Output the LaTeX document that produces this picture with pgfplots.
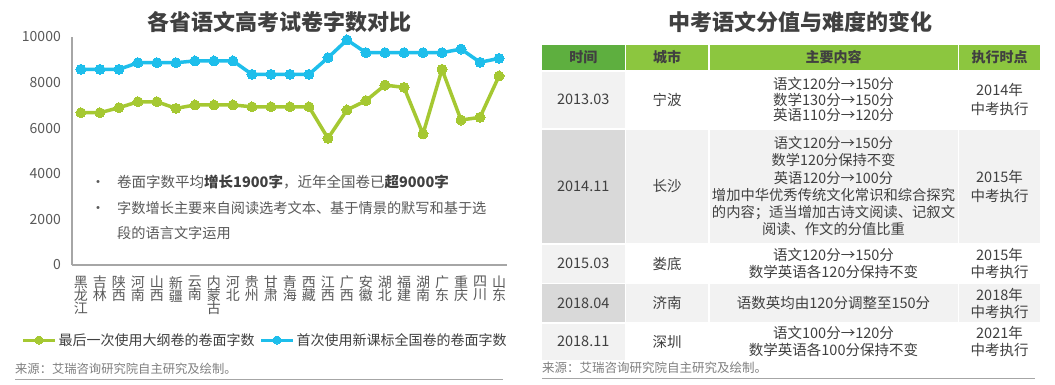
\documentclass[border=0pt]{standalone}
\usepackage{fontspec}
\setmainfont{Noto Sans CJK SC}
\usepackage{pgfplots}
\pgfplotsset{compat=1.18}
\definecolor{cgreen}{HTML}{A5C832}
\definecolor{cblue}{HTML}{1EBEEB}
\definecolor{dgray}{HTML}{404040}
\definecolor{mgray}{HTML}{595959}
\definecolor{lgray}{HTML}{7F7F7F}
\definecolor{axgray}{HTML}{A6A6A6}
\definecolor{hgA}{HTML}{5EAF3F}
\definecolor{hgB}{HTML}{8CC63F}
\definecolor{cL}{HTML}{F2F2F2}
\definecolor{cD}{HTML}{D9D9D9}
\newcommand{\fs}[2]{\fontsize{#1}{#2}\selectfont}
\newcommand{\cell}[7]{\fill[#5] (#1pt,-#2pt) rectangle (#3pt,-#4pt);
  \node[align=center, text=dgray, font={#7}, inner sep=0pt] at ({(#1+#3)/2*1pt},{-(#2+#4)/2*1pt}) {#6};}
\begin{document}
\begin{tikzpicture}
\fill[white] (0,0) rectangle (1055pt,-384pt);
% ---------- left chart ----------
\node[font={\fs{22}{22}\bfseries}, text=dgray, inner sep=0pt] at (279pt,-22pt) {各省语文高考试卷字数对比};
\begin{axis}[
  at={(72pt,-265pt)}, anchor=south west,
  scale only axis, width=435pt, height=228.3pt,
  xmin=-0.47, xmax=22.42, ymin=0, ymax=10000,
  separate axis lines,
  axis x line*=bottom, axis y line*=left,
  x axis line style={-, axgray, line width=1.3pt},
  y axis line style={-, axgray, line width=1.3pt},
  major tick length=0pt,
  ytick={0,2000,4000,6000,8000,10000},
  scaled y ticks=false,
  yticklabel style={text=mgray, font={\fs{14}{14}}, anchor=east, inner sep=0pt, xshift=-11pt},
  /pgf/number format/1000 sep={},
  /pgf/number format/assume math mode=true,
  xtick={0,...,22},
  xticklabels={{黑\\[-1pt]龙\\[-1pt]江},{吉\\[-1pt]林},{陕\\[-1pt]西},{河\\[-1pt]南},{山\\[-1pt]西},{新\\[-1pt]疆},{云\\[-1pt]南},{内\\[-1pt]蒙\\[-1pt]古},{河\\[-1pt]北},{贵\\[-1pt]州},{甘\\[-1pt]肃},{青\\[-1pt]海},{西\\[-1pt]藏},{江\\[-1pt]西},{广\\[-1pt]西},{安\\[-1pt]徽},{湖\\[-1pt]北},{福\\[-1pt]建},{湖\\[-1pt]南},{广\\[-1pt]东},{重\\[-1pt]庆},{四\\[-1pt]川},{山\\[-1pt]东}},
  xticklabel style={text=mgray, font={\fs{14}{14}}, align=center, anchor=north, inner sep=0pt, yshift=-11pt},
  legend style={at={(0.4437,-0.3285)}, anchor=center, draw=none, fill=none,
    font={\fs{14}{14}}, text=dgray, legend columns=2,
    /tikz/every even column/.style={column sep=3pt}, inner sep=0pt},
  legend image code/.code={\draw[#1, line width=3pt, mark size=4pt, mark repeat=2, mark phase=2] plot coordinates {(0pt,0pt)(16pt,0pt)(32pt,0pt)};},
  clip=false,
]
\addplot[cgreen, line width=3.5pt, mark=*, mark size=5pt, mark options={fill=cgreen, draw=cgreen, line width=0pt}] coordinates {
(0,6670)(1,6670)(2,6890)(3,7150)(4,7150)(5,6860)(6,7010)(7,7010)(8,7010)(9,6930)(10,6930)(11,6930)(12,6930)(13,5550)(14,6790)(15,7200)(16,7880)(17,7780)(18,5740)(19,8570)(20,6350)(21,6470)(22,8280)};
\addlegendentry{最后一次使用大纲卷的卷面字数}
\addplot[cblue, line width=3.5pt, mark=*, mark size=5pt, mark options={fill=cblue, draw=cblue, line width=0pt}] coordinates {
(0,8570)(1,8570)(2,8570)(3,8860)(4,8860)(5,8860)(6,8940)(7,8940)(8,8940)(9,8350)(10,8350)(11,8350)(12,8350)(13,9080)(14,9860)(15,9300)(16,9300)(17,9300)(18,9300)(19,9300)(20,9460)(21,8880)(22,9050)};
\addlegendentry{首次使用新课标全国卷的卷面字数}
\end{axis}
% bullets
\node[anchor=base, text=mgray, font={\fs{14.5}{14.5}}, inner sep=0pt] at (98pt,-187.2pt) {•};
\node[anchor=base, text=mgray, font={\fs{14.5}{14.5}}, inner sep=0pt] at (98pt,-213.8pt) {•};
\node[anchor=base west, text=mgray, font={\fs{14.5}{14.5}}, inner sep=0pt] at (117pt,-187.2pt) {卷面字数平均{\bfseries\color{dgray}增长1900字}，近年全国卷已{\bfseries\color{dgray}超9000字}};
\node[anchor=base west, text=mgray, font={\fs{14.2}{14.2}}, inner sep=0pt] at (117pt,-213.8pt) {字数增长主要来自阅读选考文本、基于情景的默写和基于选};
\node[anchor=base west, text=mgray, font={\fs{14.2}{14.2}}, inner sep=0pt] at (117pt,-238.8pt) {段的语言文字运用};
% source left
\node[anchor=west, text=lgray, font={\fs{12.3}{12.3}}, inner sep=0pt] at (15pt,-369pt) {来源：艾瑞咨询研究院自主研究及绘制。};
\draw[axgray, line width=1pt] (15pt,-379pt) -- (503pt,-379pt);
% ---------- right table ----------
\node[font={\fs{22}{22}\bfseries}, text=dgray, inner sep=0pt] at (800pt,-22pt) {中考语文分值与难度的变化};
\def\hf{\fs{14}{14}\bfseries\color{white}}
\def\tf{\fs{14.5}{17}}
% header
\cell{542}{45}{624.5}{70}{hgA}{时间}{\hf}
\cell{626}{45}{708}{70}{hgB}{城市}{\hf}
\cell{709.5}{45}{957.5}{70}{hgB}{主要内容}{\hf}
\cell{959}{45}{1040}{70}{hgB}{执行时点}{\hf}
% row 1
\cell{542}{71.5}{624.5}{128}{cL}{2013.03}{\tf}
\cell{626}{71.5}{708}{128}{white}{宁波}{\tf}
\cell{709.5}{71.5}{957.5}{128}{white}{语文120分→150分\\数学130分→150分\\英语110分→120分}{\fs{14.5}{15.5}}
\cell{959}{71.5}{1040}{128}{white}{2014年\\中考执行}{\fs{14.5}{19}}
% row 2
\cell{542}{129.5}{624.5}{243}{cD}{2014.11}{\tf}
\cell{626}{129.5}{708}{243}{cL}{长沙}{\tf}
\cell{709.5}{129.5}{957.5}{243}{cL}{语文120分→150分\\数学120分保持不变\\英语120分→100分\\增加中华优秀传统文化常识和综合探究\\的内容；适当增加古诗文阅读、记叙文\\阅读、作文的分值比重}{\fs{14.3}{17.3}}
\cell{959}{129.5}{1040}{243}{cL}{2015年\\中考执行}{\fs{14.5}{19}}
% row 3
\cell{542}{244.5}{624.5}{282.5}{cL}{2015.03}{\tf}
\cell{626}{244.5}{708}{282.5}{white}{娄底}{\tf}
\cell{709.5}{244.5}{957.5}{282.5}{white}{语文120分→150分\\数学英语各120分保持不变}{\tf}
\cell{959}{244.5}{1040}{282.5}{white}{2015年\\中考执行}{\tf}
% row 4
\cell{542}{284}{624.5}{322}{cD}{2018.04}{\tf}
\cell{626}{284}{708}{322}{cL}{济南}{\tf}
\cell{709.5}{284}{957.5}{322}{cL}{语数英均由120分调整至150分}{\tf}
\cell{959}{284}{1040}{322}{cL}{2018年\\中考执行}{\tf}
% row 5
\cell{542}{323.5}{624.5}{360}{cL}{2018.11}{\tf}
\cell{626}{323.5}{708}{360}{white}{深圳}{\tf}
\cell{709.5}{323.5}{957.5}{360}{white}{语文100分→120分\\数学英语各100分保持不变}{\tf}
\cell{959}{323.5}{1040}{360}{white}{2021年\\中考执行}{\tf}
% source right
\node[anchor=west, text=lgray, font={\fs{12.5}{12.5}}, inner sep=0pt] at (542pt,-368pt) {来源：艾瑞咨询研究院自主研究及绘制。};
\draw[axgray, line width=1pt] (542pt,-378pt) -- (1035pt,-378pt);
\end{tikzpicture}
\end{document}
